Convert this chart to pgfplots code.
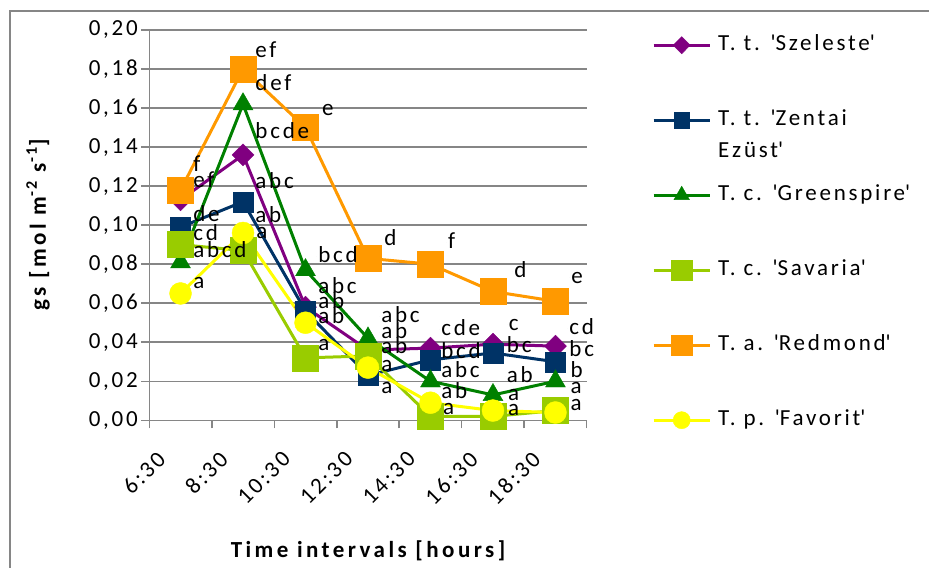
\documentclass[border=0pt]{standalone}
\usepackage{pgfplots}
\pgfplotsset{compat=1.18}
\usepackage{pgfplotstable}
\usepackage{fontspec}
\setmainfont{Carlito}[LetterSpace=12, BoldFeatures={LetterSpace=15}]
\definecolor{cpurple}{HTML}{800080}
\definecolor{cnavy}{HTML}{003366}
\definecolor{cgreen}{HTML}{008000}
\definecolor{clgreen}{HTML}{99CC00}
\definecolor{corange}{HTML}{FF9900}
\definecolor{cyellow}{HTML}{FFFF00}
\definecolor{cgrid}{HTML}{868686}
\newcommand{\q}{\textquotesingle}
\newcommand{\fs}{\fontsize{23bp}{27bp}\selectfont}

\pgfplotstableread{
x szel zent green sav red fav
1 0.113 0.099 0.081 0.090 0.118 0.065
2 0.136 0.112 0.162 0.087 0.180 0.096
3 0.058 0.056 0.077 0.032 0.150 0.050
4 0.036 0.023 0.042 0.033 0.083 0.027
5 0.037 0.031 0.020 0.002 0.080 0.009
6 0.039 0.0345 0.013 0.002 0.066 0.005
7 0.038 0.030 0.020 0.005 0.061 0.004
}\gsdata

\pgfplotstableread{
x y l
1.18 0.1304 f
1.18 0.1222 ef
1.18 0.1048 de
1.18 0.0950 cd
1.18 0.0863 abcd
1.18 0.0704 a
2.175 0.1889 ef
2.175 0.1719 def
2.175 0.1473 bcde
2.175 0.1217 abc
2.175 0.1043 ab
2.19 0.0961 a
3.24 0.1591 e
3.18 0.0837 bcd
3.18 0.0678 abc
3.18 0.0602 ab
3.18 0.0525 ab
3.18 0.0386 a
4.24 0.0925 d
4.19 0.0530 abc
4.19 0.0448 ab
4.19 0.0371 ab
4.19 0.0283 a
4.19 0.0166 a
5.26 0.0909 f
5.15 0.0463 cde
5.15 0.0350 bcd
5.15 0.0248 abc
5.15 0.0145 ab
5.18 0.0063 a
6.32 0.0761 d
6.23 0.0489 c
6.2 0.0376 bc
6.2 0.0222 ab
6.22 0.0130 a
6.22 0.0053 a
7.23 0.0730 e
7.2 0.0473 cd
7.2 0.0360 bc
7.22 0.0248 b
7.22 0.0166 a
7.22 0.0079 a
}\labeldata

\begin{document}
\begin{tikzpicture}
\useasboundingbox (0bp,0bp) rectangle (929bp,-568bp);
\draw[cgrid, line width=1.5bp] (10bp,-568bp) -- (10bp,-11bp) -- (929bp,-11bp);
\begin{axis}[
  at={(149.3bp,-420.3bp)}, anchor=south west,
  scale only axis, width=437.4bp, height=390.3bp,
  xmin=0.5, xmax=7.5, ymin=0, ymax=0.2,
  clip=false,
  axis x line*=bottom, axis y line*=left,
  axis line style={cgrid, line width=1.5bp},
  ymajorgrids, grid style={cgrid, line width=1.5bp},
  ytick={0,0.02,0.04,0.06,0.08,0.1,0.12,0.14,0.16,0.18,0.2},
  scaled y ticks=false,
  yticklabel style={/pgf/number format/.cd, fixed, fixed zerofill, precision=2, use comma, assume math mode=true},
  xtick={0.5,1.5,2.5,3.5,4.5,5.5,6.5,7.5},
  xticklabels={},
  extra x ticks={1,2,3,4,5,6,7},
  extra x tick labels={6:30,8:30,10:30,12:30,14:30,16:30,18:30},
  extra x tick style={major tick length=0pt, tick label style={xshift=-19bp, yshift=-35bp, rotate=45, anchor=east, inner sep=0pt}},
  tick align=outside,
  major tick length=8bp,
  tick style={cgrid, line width=1.5bp},
  tick label style={font=\fs, text=black},
  label style={font=\bfseries\fs},
  ylabel={gs [mol m\textsuperscript{-2} s\textsuperscript{-1}]},
  ylabel style={at={(axis description cs:-0.2545,0.5)}, anchor=center, rotate=0},
  xlabel={Time intervals [hours]},
  xlabel style={at={(axis description cs:0.5,-0.3349)}, anchor=center},
  legend style={at={(axis description cs:1.1493,0.9898)}, anchor=north west, draw=none, fill=none, inner sep=0pt, row sep=53bp, column sep=7bp, font=\fs, nodes={inner sep=0pt, text height=16bp, text depth=6bp}},
  legend cell align=left,
  legend image code/.code={\draw[mark repeat=2,mark phase=2,#1] plot coordinates {(0bp,0bp) (28bp,0bp) (56bp,0bp)};},
  legend image post style={/tikz/every mark/.append style={scale=0.78}},
  every axis plot/.append style={line width=3bp},
]
\addplot[cpurple, mark=diamond*, mark size=11bp, mark options={xscale=1.33, line width=0.4bp}] table[x=x,y=szel] {\gsdata};
\addlegendentry{T. t. \q Szeleste\q}
\addplot[cnavy, mark=square*, mark size=10bp, mark options={line width=0.4bp}] table[x=x,y=zent] {\gsdata};
\addlegendentry{\smash{\vtop{\hbox{T. t. \q Zentai}\vskip5bp\hbox{Ezüst\q}}}}
\addplot[cgreen, mark=triangle*, mark size=11.5bp, mark options={line width=0.4bp}] table[x=x,y=green] {\gsdata};
\addlegendentry{T. c. \q Greenspire\q}
\addplot[clgreen, mark=square*, mark size=13bp, mark options={line width=0.4bp}] table[x=x,y=sav] {\gsdata};
\addlegendentry{T. c. \q Savaria\q}
\addplot[corange, mark=square*, mark size=13bp, mark options={line width=0.4bp}] table[x=x,y=red] {\gsdata};
\addlegendentry{T. a. \q Redmond\q}
\addplot[cyellow, mark=*, mark size=11bp, mark options={line width=0.4bp}] table[x=x,y=fav] {\gsdata};
\addlegendentry{T. p. \q Favorit\q}
\addplot[forget plot, only marks, mark=*, mark size=0bp, draw=none, fill=none,
  nodes near coords, point meta=explicit symbolic,
  nodes near coords style={anchor=base west, inner sep=0pt, yshift=-6bp, font=\fs, text=black}]
  table[x=x, y=y, meta=l] {\labeldata};
\end{axis}
\end{tikzpicture}
\end{document}
